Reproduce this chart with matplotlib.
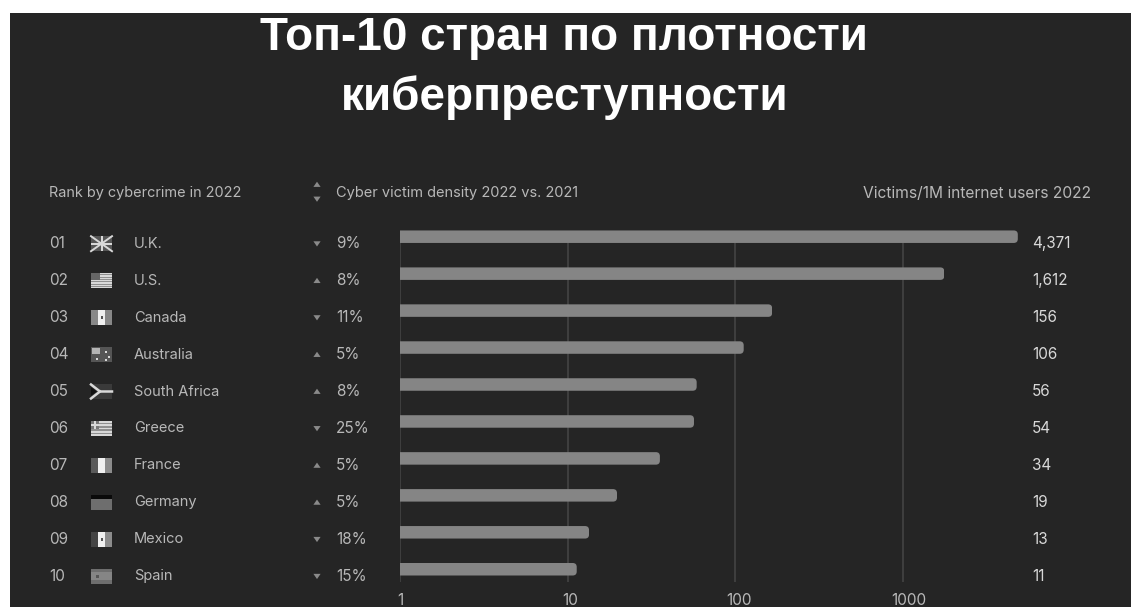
import matplotlib
matplotlib.use("Agg")
import matplotlib.pyplot as plt
from matplotlib.patches import FancyBboxPatch, Rectangle, Polygon
from matplotlib.ticker import NullLocator

W, H = 1131, 607

ranks = ["01", "02", "03", "04", "05", "06", "07", "08", "09", "10"]
countries = ["U.K.", "U.S.", "Canada", "Australia", "South Africa",
             "Greece", "France", "Germany", "Mexico", "Spain"]
direction = ["down", "up", "down", "up", "up", "down", "up", "up", "down", "down"]
density_change = [9, 8, 11, 5, 8, 25, 5, 5, 18, 15]
victims = [4371, 1612, 156, 106, 56, 54, 34, 19, 13, 11]
tick_values = [1, 10, 100, 1000]

bg = "#252525"
bar_col = "#858585"
txt_col = "#b8b8b8"
font = "Inter"

fig = plt.figure(figsize=(W / 100, H / 100), dpi=100, facecolor="white")

# canvas in pixel coordinates for the text columns and flags
cv = fig.add_axes([0, 0, 1, 1])
cv.set_xlim(0, W)
cv.set_ylim(H, 0)
cv.axis("off")
cv.add_patch(Rectangle((10, 13), W - 10, H - 13, fc=bg, lw=0, zorder=0))

row0, row_step = 236.7, 36.95
ax_left, ax_right = 400, 1100
ax_top, ax_bot = 224, 582


def log_axes(px_per_decade):
    a = fig.add_axes([ax_left / W, 1 - ax_bot / H, (ax_right - ax_left) / W, (ax_bot - ax_top) / H])
    a.patch.set_alpha(0)
    a.set_xscale("log")
    a.set_xlim(1, 10 ** ((ax_right - ax_left) / px_per_decade))
    a.set_ylim((ax_bot - row0) / row_step, (ax_top - row0) / row_step)
    a.set_autoscale_on(False)
    for s in a.spines.values():
        s.set_visible(False)
    a.xaxis.set_major_locator(NullLocator())
    a.xaxis.set_minor_locator(NullLocator())
    a.yaxis.set_major_locator(NullLocator())
    return a


# gridlines sit on a slightly tighter decade than the bars and labels
grid_ax = log_axes(167.7)
ax = log_axes(169.7)
for t in tick_values:
    grid_ax.plot([t, t], [0, 9.5], color="#444444", lw=1.2)

fig.canvas.draw()


def data_px(x, y):
    px, py = ax.transData.transform((x, y))
    return px, H - py


bar_h = 12.5
for i, v in enumerate(victims):
    bars = ax.barh(i, v - 1, left=1, height=bar_h / row_step, color=bar_col, zorder=2)
    # round the far corners by clipping the bar
    x1, yc = data_px(v, i)
    r = 4
    clip = FancyBboxPatch((380 + r, yc - bar_h / 2 + r), x1 - 380 - 2 * r, bar_h - 2 * r,
                          boxstyle=f"round,pad={r},rounding_size={r}",
                          transform=cv.transData)
    bars[0].set_clip_path(clip)


def rect(x, y, w, h, c, z=3):
    cv.add_patch(Rectangle((x, y), w, h, fc=c, lw=0, zorder=z))


def flag(i, x=91, w=21, h=15):
    y = row0 + i * row_step + 7 - h / 2
    light = "#d8d8d8"
    name = countries[i]
    rect(x, y, w, h, "#8c8c8c", 2)
    if name == "U.K.":
        rect(x, y, w, h, "#555555", 2)
        cv.plot([x, x + w], [y, y + h], color=light, lw=1.4, zorder=3)
        cv.plot([x, x + w], [y + h, y], color=light, lw=1.4, zorder=3)
        rect(x, y + h / 2 - 1, w, 2, light, 4)
        rect(x + w / 2 - 1, y, 2, h, light, 4)
    elif name == "U.S.":
        rect(x, y, w, h, "#8f8f8f", 2)
        for k in range(0, 13, 2):
            rect(x, y + k * h / 13, w, h / 13, light)
        rect(x, y, 9, 7, "#666666", 4)
    elif name in ("Canada", "Mexico", "France"):
        left = {"Canada": "#888888", "Mexico": "#444444", "France": "#5a5a5a"}[name]
        right = {"Canada": "#888888", "Mexico": "#8c8c8c", "France": "#8c8c8c"}[name]
        rect(x, y, 7, h, left)
        rect(x + 7, y, 7, h, "#f0f0f0")
        rect(x + 14, y, 7, h, right)
        if name != "France":
            rect(x + 9.5, y + 6, 2.5, 3, "#555555", 4)
    elif name == "Australia":
        rect(x, y, w, h, "#555555", 2)
        rect(x + 1, y + 1, 8, 6, "#b4b4b4")
        for dx, dy in [(5, 11), (14, 4), (17, 9), (14, 12)]:
            rect(x + dx, y + dy, 2, 2, light)
    elif name == "South Africa":
        rect(x, y, w, h, "#3a3a3a", 2)
        cv.plot([x, x + 9, x + w], [y + 0.5, y + h / 2, y + h / 2], color=light, lw=1.8, zorder=3)
        cv.plot([x, x + 9], [y + h - 0.5, y + h / 2], color=light, lw=1.8, zorder=3)
        cv.add_patch(Polygon([(x, y + 3), (x + 6, y + h / 2), (x, y + h - 3)], fc="#111111", lw=0, zorder=4))
    elif name == "Greece":
        rect(x, y, w, h, "#8f8f8f", 2)
        for k in range(0, 9, 2):
            rect(x, y + k * h / 9, w, h / 9, light)
        rect(x, y, 8, 8, "#777777", 4)
        rect(x + 3.2, y, 1.6, 8, light, 5)
        rect(x, y + 3.2, 8, 1.6, light, 5)
    elif name == "Germany":
        rect(x, y, w, 4, "#0a0a0a")
        rect(x, y + 4, w, 11, "#6e6e6e")
    elif name == "Spain":
        rect(x, y, w, h, "#6e6e6e", 2)
        rect(x, y + 3.5, w, 8, "#858585")
        rect(x + 5, y + 6, 2.5, 3, "#555555", 4)


def arrow(x, yc, up, size=3.6):
    s = -1 if up else 1
    cv.add_patch(Polygon([(x - size, yc - s * 2.4), (x + size, yc - s * 2.4), (x, yc + s * 2.8)],
                         fc="#8a8a8a", lw=0, zorder=3))


# title
cv.text(563.5, 38, "Топ-10 стран по плотности", color="white", fontsize=33, fontweight="bold",
        family="Liberation Sans", ha="center", va="center")
cv.text(565, 98, "киберпреступности", color="white", fontsize=33, fontweight="bold",
        family="Liberation Sans", ha="center", va="center")

# column headers
cv.text(49, 193.5, "Rank by cybercrime in 2022", color=txt_col, fontsize=10.4, family=font, va="center")
cv.text(336, 193.5, "Cyber victim density 2022 vs. 2021", color=txt_col, fontsize=10.5, family=font, va="center")
cv.text(1091, 193.5, "Victims/1M internet users 2022", color=txt_col, fontsize=11.2, family=font,
        va="center", ha="right")
arrow(317, 184.5, True)
arrow(317, 199, False)

# table rows
for i in range(len(ranks)):
    yt = row0 + i * row_step + 7
    cv.text(49, yt, ranks[i], color=txt_col, fontsize=11, family=font, va="center")
    flag(i)
    cv.text(134, yt, countries[i], color=txt_col, fontsize=10.5, family=font, va="center")
    arrow(317, yt, direction[i] == "up")
    cv.text(336, yt, f"{density_change[i]}%", color=txt_col, fontsize=11, family=font, va="center")
    cv.text(1032, yt, f"{victims[i]:,}", color="#d8d8d8", fontsize=11, family=font, va="center")

# axis labels
for t in tick_values:
    px, _ = data_px(t, 0)
    cv.text(px, 600.5, str(t), color=txt_col, fontsize=11, family=font, ha="center", va="center")

fig.savefig("out.png", dpi=100, facecolor="white")
